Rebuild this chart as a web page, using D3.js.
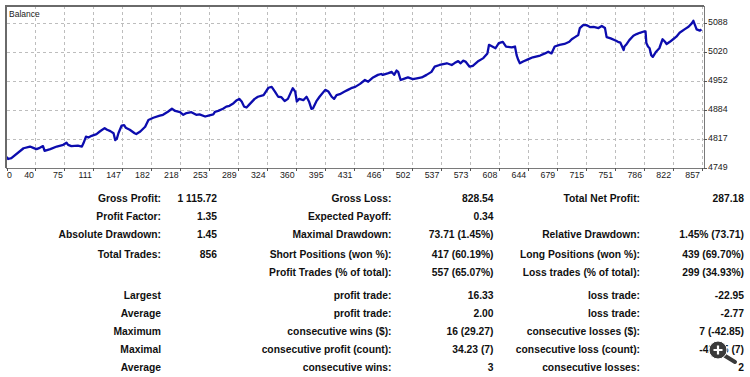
<!DOCTYPE html>
<html>
  <head>
    <title>Balance report</title>
    <script src="https://cdn.jsdelivr.net/npm/d3@7/dist/d3.min.js"></script>
    <style>
      body { margin: 0; background: #fff; }
      svg { display: block; }
    </style>
  </head>
  <body>
    <svg width="750" height="377"></svg>

    <script>
      // balance curve (trade number -> balance)
      const tradeNo = [0, 2, 6, 21, 29, 33, 37, 41, 45, 47, 54, 62, 70, 74, 76, 80, 88, 93, 95, 98,
        101, 105, 111, 115, 121, 124, 128, 132, 134, 136, 138, 142, 145, 147, 152, 158, 160, 165, 171, 175,
        181, 189, 193, 199, 204, 208, 214, 218, 222, 228, 234, 238, 245, 249, 255, 257, 261, 267, 271, 275,
        280, 284, 287, 290, 293, 296, 299, 306, 310, 317, 323, 327, 331, 335, 339, 343, 347, 352, 353, 356,
        358, 361, 366, 370, 373, 376, 378, 382, 386, 393, 397, 401, 404, 407, 411, 417, 421, 425, 430, 436,
        442, 446, 452, 458, 462, 464, 471, 475, 478, 481, 483, 486, 489, 495, 501, 506, 512, 518, 524, 528,
        534, 543, 549, 553, 557, 560, 563, 566, 571, 575, 581, 588, 593, 595, 599, 603, 607, 612, 616, 623,
        627, 629, 631, 633, 637, 643, 649, 658, 664, 668, 672, 676, 682, 688, 694, 697, 701, 705, 707, 711,
        715, 720, 724, 730, 734, 738, 740, 745, 751, 754, 757, 761, 762, 764, 768, 773, 777, 781, 786, 788,
        789, 791, 793, 795, 797, 801, 805, 809, 812, 814, 818, 822, 826, 830, 836, 841, 845, 847, 849, 851,
        855, 857];
      const balance = [4775, 4770, 4772, 4795, 4799, 4796, 4793, 4796, 4800, 4789, 4793, 4799, 4803, 4808, 4803, 4800, 4801, 4799, 4807, 4822,
        4820, 4824, 4828, 4834, 4842, 4838, 4835, 4830, 4814, 4817, 4830, 4848, 4849, 4843, 4838, 4830, 4828, 4834, 4845, 4861,
        4866, 4871, 4873, 4880, 4887, 4882, 4879, 4873, 4877, 4879, 4873, 4874, 4869, 4871, 4874, 4880, 4882, 4887, 4892, 4894,
        4900, 4907, 4910, 4904, 4892, 4890, 4896, 4910, 4915, 4919, 4936, 4938, 4927, 4915, 4914, 4905, 4910, 4931, 4935, 4927,
        4904, 4910, 4907, 4915, 4904, 4887, 4888, 4904, 4915, 4931, 4927, 4915, 4910, 4919, 4921, 4927, 4931, 4935, 4938, 4945,
        4954, 4950, 4960, 4966, 4968, 4966, 4970, 4973, 4966, 4976, 4973, 4954, 4956, 4960, 4956, 4958, 4960, 4966, 4973, 4985,
        4989, 4993, 4989, 4994, 4998, 4993, 4999, 4997, 4985, 4987, 4997, 5005, 5016, 5036, 5032, 5028, 5040, 5043, 5032, 5030,
        5032, 5012, 5001, 4993, 4997, 5002, 5007, 5011, 5016, 5020, 5016, 5032, 5036, 5038, 5043, 5049, 5054, 5059, 5075, 5082,
        5082, 5077, 5078, 5075, 5080, 5075, 5054, 5051, 5046, 5043, 5041, 5024, 5032, 5036, 5047, 5057, 5061, 5064, 5067, 5067,
        5040, 5032, 5028, 5012, 5008, 5020, 5028, 5049, 5043, 5038, 5043, 5049, 5055, 5064, 5072, 5078, 5086, 5092, 5082, 5072,
        5069, 5072];

      const xTickLabels = ["0", "40", "75", "111", "147", "182", "218", "253", "289", "324", "360", "395", "431",
        "466", "502", "537", "573", "608", "644", "679", "715", "751", "786", "822", "857"];
      const yTickLabels = ["4749", "4817", "4884", "4952", "5020", "5088"];

      // statistics table: label / value pairs for three columns
      const col1Labels = ["Gross Profit:", "Profit Factor:", "Absolute Drawdown:", "Total Trades:", "",
        "Largest", "Average", "Maximum", "Maximal", "Average"];
      const col1Values = ["1 115.72", "1.35", "1.45", "856", "", "", "", "", "", ""];
      const col2Labels = ["Gross Loss:", "Expected Payoff:", "Maximal Drawdown:", "Short Positions (won %):",
        "Profit Trades (% of total):", "profit trade:", "profit trade:", "consecutive wins ($):",
        "consecutive profit (count):", "consecutive wins:"];
      const col2Values = ["828.54", "0.34", "73.71 (1.45%)", "417 (60.19%)", "557 (65.07%)", "16.33", "2.00",
        "16 (29.27)", "34.23 (7)", "3"];
      const col3Labels = ["Total Net Profit:", "", "Relative Drawdown:", "Long Positions (won %):",
        "Loss trades (% of total):", "loss trade:", "loss trade:", "consecutive losses ($):",
        "consecutive loss (count):", "consecutive losses:"];
      const col3Values = ["287.18", "", "1.45% (73.71)", "439 (69.70%)", "299 (34.93%)", "-22.95", "-2.77",
        "7 (-42.85)", "-42.85 (7)", "2"];
      const rowBase = [201.5, 219.5, 237.5, 257.5, 275.5, 299, 317, 335, 353, 371];

      const svg = d3.select("svg");
      const plot = { left: 6.5, right: 704, top: 6, bottom: 168 };

      const x = d3.scaleLinear().domain([0, 857]).range([plot.left, 701.5]);
      const y = d3.scaleLinear().domain([4749, 5088]).range([plot.bottom, 22.5]);
      const xTick = d3.scalePoint().domain(xTickLabels).range([plot.left, 701.5]);
      const yTick = d3.scalePoint().domain(yTickLabels).range([plot.bottom, 22.5]);

      const grid = svg.append("g")
        .attr("stroke", "#bdbdbd")
        .attr("stroke-dasharray", "3,3")
        .attr("shape-rendering", "crispEdges");
      grid.selectAll(".vg").data(xTickLabels.slice(1)).enter().append("line")
        .attr("x1", d => Math.round(xTick(d)) + 0.5).attr("x2", d => Math.round(xTick(d)) + 0.5)
        .attr("y1", plot.top).attr("y2", plot.bottom);
      grid.selectAll(".hg").data(yTickLabels.slice(1)).enter().append("line")
        .attr("x1", plot.left).attr("x2", plot.right)
        .attr("y1", d => Math.round(yTick(d)) + 0.5).attr("y2", d => Math.round(yTick(d)) + 0.5);

      // balance line
      svg.append("path")
        .datum(tradeNo.map((t, i) => [t, balance[i]]))
        .attr("fill", "none")
        .attr("stroke", "#0c0cae")
        .attr("stroke-width", 2.3)
        .attr("stroke-linejoin", "round")
        .attr("d", d3.line().x(d => x(d[0])).y(d => y(d[1])));

      // frame
      const frame = svg.append("g").attr("fill", "none").attr("shape-rendering", "crispEdges");
      frame.append("path")
        .attr("stroke", "#6a6a6a").attr("stroke-width", 2)
        .attr("d", `M${plot.left - 0.5},${plot.bottom}V${plot.top}H${plot.right}`);
      frame.append("path")
        .attr("stroke", "#7a7a7a").attr("stroke-width", 1)
        .attr("d", `M${plot.right + 0.5},${plot.top}V${plot.bottom + 0.5}H${plot.left - 1}`);

      // right axis
      const yAxis = svg.append("g");
      yAxis.selectAll("line").data(yTickLabels).enter().append("line")
        .attr("x1", plot.right).attr("x2", plot.right + 3)
        .attr("y1", d => Math.round(yTick(d)) + 0.5).attr("y2", d => Math.round(yTick(d)) + 0.5)
        .attr("stroke", "#555");
      yAxis.selectAll("text").data(yTickLabels).enter().append("text")
        .attr("x", 708).attr("y", d => yTick(d) + 2)
        .attr("font-family", "Liberation Sans, Arial, sans-serif")
        .attr("font-size", "8.8px").attr("fill", "#1a1a1a")
        .text(d => d);

      // bottom axis
      const xAxis = svg.append("g");
      xAxis.selectAll("line").data(xTickLabels).enter().append("line")
        .attr("x1", d => Math.round(xTick(d)) + 0.5).attr("x2", d => Math.round(xTick(d)) + 0.5)
        .attr("y1", plot.bottom).attr("y2", plot.bottom + 3)
        .attr("stroke", "#555");
      xAxis.selectAll("text").data(xTickLabels).enter().append("text")
        .attr("x", (d, i) => i === 0 ? xTick(d) + 0.5 : xTick(d) - 1.5)
        .attr("y", 178)
        .attr("text-anchor", (d, i) => i === 0 ? "start" : "end")
        .attr("font-family", "Liberation Sans, Arial, sans-serif")
        .attr("font-size", "8.8px").attr("fill", "#1a1a1a")
        .text(d => d);

      svg.append("text")
        .attr("x", 9).attr("y", 16.5)
        .attr("font-family", "Liberation Sans, Arial, sans-serif")
        .attr("font-size", "8.5px").attr("fill", "#1a1a1a")
        .text("Balance");

      // statistics table
      const table = svg.append("g")
        .attr("font-family", "Liberation Sans, Arial, sans-serif")
        .attr("font-size", "10.3px").attr("font-weight", "bold")
        .attr("fill", "#101010").attr("text-anchor", "end");
      const cols = [
        [col1Labels, 161], [col1Values, 217],
        [col2Labels, 391.5], [col2Values, 493.5],
        [col3Labels, 640], [col3Values, 744]
      ];
      cols.forEach(([texts, xr]) => {
        table.append("g").selectAll("text").data(texts).enter().append("text")
          .attr("x", xr).attr("y", (d, i) => rowBase[i])
          .text(d => d);
      });

      // zoom glass overlay in the lower right corner
      const glass = svg.append("g").attr("transform", "translate(718,350)");
      glass.append("line").attr("x1", 4).attr("y1", 4).attr("x2", 17).attr("y2", 12)
        .attr("stroke", "#3a3a3a").attr("stroke-width", 4).attr("stroke-linecap", "round");
      glass.append("circle").attr("r", 9).attr("fill", "#3a3a3a")
        .attr("stroke", "#fff").attr("stroke-width", 1);
      glass.append("path").attr("d", "M-4.5,0H4.5M0,-4.5V4.5")
        .attr("stroke", "#fff").attr("stroke-width", 2.2);
    </script>
  </body>
</html>
